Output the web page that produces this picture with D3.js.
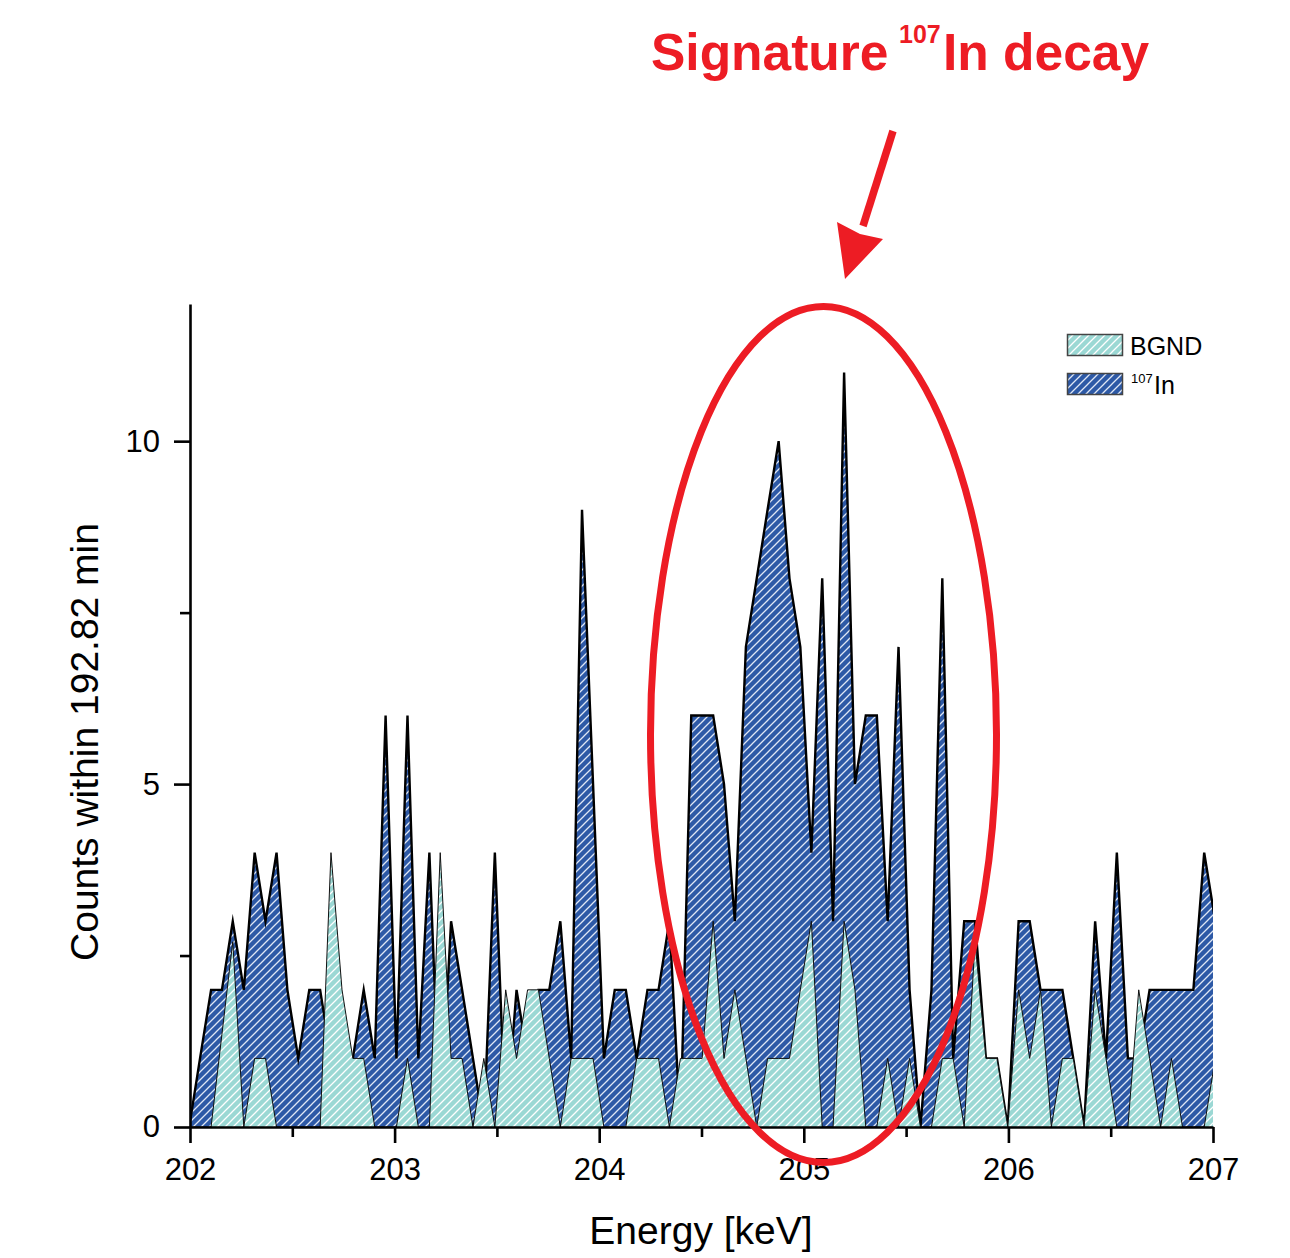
<!DOCTYPE html>
<html>
<head>
<meta charset="utf-8">
<script src="https://cdn.jsdelivr.net/npm/d3@7"></script>
<style>
  body { margin: 0; background: #fff; }
  svg { display: block; font-family: Arial, "Liberation Sans", sans-serif; }
</style>
</head>
<body>
<svg id="chart" width="1290" height="1258"></svg>
<script>
// channel energies (keV)
var energy = [201.996, 202.049, 202.103, 202.156, 202.209, 202.263, 202.316, 202.369, 202.423, 202.476,
  202.529, 202.583, 202.636, 202.689, 202.743, 202.796, 202.849, 202.903, 202.956, 203.009,
  203.063, 203.116, 203.170, 203.223, 203.276, 203.330, 203.383, 203.436, 203.490, 203.543,
  203.596, 203.650, 203.703, 203.756, 203.810, 203.863, 203.916, 203.970, 204.023, 204.076,
  204.130, 204.183, 204.236, 204.290, 204.343, 204.397, 204.450, 204.503, 204.557, 204.610,
  204.663, 204.717, 204.770, 204.823, 204.877, 204.930, 204.983, 205.037, 205.090, 205.143,
  205.197, 205.250, 205.303, 205.357, 205.410, 205.463, 205.517, 205.570, 205.624, 205.677,
  205.730, 205.784, 205.837, 205.890, 205.944, 205.997, 206.050, 206.104, 206.157, 206.210,
  206.264, 206.317, 206.370, 206.424, 206.477, 206.530, 206.584, 206.637, 206.690, 206.744,
  206.797, 206.851, 206.904, 206.957, 207.011];

// 107In measurement counts
var indium = [0, 1, 2, 2, 3, 2, 4, 3, 4, 2,
  1, 2, 2, 1, 1, 1, 2, 1, 6, 1,
  6, 1, 4, 0, 3, 2, 1, 0, 4, 0,
  2, 1, 2, 2, 3, 1, 9, 5, 1, 2,
  2, 1, 2, 2, 3, 0, 6, 6, 6, 5,
  3, 7, 8, 9, 10, 8, 7, 4, 8, 3,
  11, 5, 6, 6, 3, 7, 2, 0, 2, 8,
  1, 3, 3, 1, 1, 0, 3, 3, 2, 2,
  2, 1, 0, 3, 1, 4, 1, 1, 2, 2,
  2, 2, 2, 4, 3];

// background counts
var bgnd = [0, 0, 0, 1.35, 2.7, 0, 1, 1, 0, 0,
  0, 0, 0, 4, 2, 1, 1, 0, 0, 0,
  1, 0, 0, 4, 1, 1, 0, 1, 0, 2,
  1, 2, 2, 1, 0, 1, 1, 1, 0, 0,
  0, 1, 1, 1, 0, 1, 1, 1, 3, 1,
  2, 1, 0, 1, 1, 1, 2, 3, 0, 0,
  3, 2, 0, 0, 1, 0, 1, 0, 0, 1,
  1, 0, 2.7, 1, 1, 0, 2, 1, 2, 0,
  1, 1, 0, 2, 1, 0, 0, 2, 1, 0,
  1, 0, 0, 0, 1];

var xTicks = [202, 203, 204, 205, 206, 207];
var xMinorTicks = [202.5, 203.5, 204.5, 205.5, 206.5];
var yTicks = [0, 5, 10];
var yMinorTicks = [2.5, 7.5];

var red = "#ED1C24";
var svg = d3.select("#chart");

var x = d3.scaleLinear().domain([202, 207]).range([190, 1213]);
var y = d3.scaleLinear().domain([0, 12]).range([1127, 304]);

var defs = svg.append("defs");

// diagonal "/" hatching like Origin's fill pattern
var hatch = function(id, bg, stripe) {
  var p = defs.append("pattern")
    .attr("id", id)
    .attr("patternUnits", "userSpaceOnUse")
    .attr("width", 8).attr("height", 8);
  p.append("rect").attr("width", 8).attr("height", 8).attr("fill", bg);
  p.append("path")
    .attr("d", "M-1,1 l2,-2 M0,8 l8,-8 M7,9 l2,-2")
    .attr("stroke", stripe)
    .attr("stroke-width", 1.3);
};
hatch("hatchIn", "#2D59A6", "#dfe7f5");
hatch("hatchBg", "#9BD8D4", "#ffffff");

defs.append("clipPath").attr("id", "plotClip")
  .append("rect")
  .attr("x", x(202)).attr("y", 280)
  .attr("width", x(207) - x(202)).attr("height", y(0) - 280);

var area = d3.area()
  .x(function(d, i) { return x(energy[i]); })
  .y0(y(0))
  .y1(function(d) { return y(d); });

var line = d3.line()
  .x(function(d, i) { return x(energy[i]); })
  .y(function(d) { return y(d); });

var plot = svg.append("g").attr("clip-path", "url(#plotClip)");

// 107In drawn first, background on top of it
plot.append("path").datum(indium)
  .attr("d", area)
  .attr("fill", "url(#hatchIn)");
plot.append("path").datum(indium)
  .attr("d", line)
  .attr("fill", "none")
  .attr("stroke", "#000")
  .attr("stroke-width", 2.4)
  .attr("stroke-linejoin", "miter")
  .attr("stroke-miterlimit", 8);

plot.append("path").datum(bgnd)
  .attr("d", area)
  .attr("fill", "url(#hatchBg)");
plot.append("path").datum(bgnd)
  .attr("d", line)
  .attr("fill", "none")
  .attr("stroke", "#111")
  .attr("stroke-width", 1)
  .attr("stroke-linejoin", "miter")
  .attr("stroke-miterlimit", 8);

// axes
var styleAxis = function(g, size) {
  g.attr("font-family", "Arial, 'Liberation Sans', sans-serif").attr("font-size", size);
  g.selectAll("path, line").attr("stroke", "#000").attr("stroke-width", 2.6);
  g.selectAll("text").attr("fill", "#000");
};

svg.append("g")
  .attr("transform", "translate(0," + y(0) + ")")
  .call(d3.axisBottom(x).tickValues(xMinorTicks).tickSize(10).tickSizeOuter(0).tickFormat(""))
  .call(styleAxis, 31)
  .call(function(g) { g.select(".domain").remove(); });

svg.append("g")
  .attr("transform", "translate(0," + y(0) + ")")
  .call(d3.axisBottom(x).tickValues(xTicks).tickSize(16).tickSizeOuter(0).tickPadding(15).tickFormat(d3.format("d")))
  .call(styleAxis, 31);

svg.append("g")
  .attr("transform", "translate(" + x(202) + ",0)")
  .call(d3.axisLeft(y).tickValues(yMinorTicks).tickSize(10).tickSizeOuter(0).tickFormat(""))
  .call(styleAxis, 31)
  .call(function(g) { g.select(".domain").remove(); });

svg.append("g")
  .attr("transform", "translate(" + x(202) + ",0)")
  .call(d3.axisLeft(y).tickValues(yTicks).tickSize(16).tickSizeOuter(0).tickPadding(14).tickFormat(d3.format("d")))
  .call(styleAxis, 31);

// axis titles
svg.append("text")
  .attr("x", 701).attr("y", 1244)
  .attr("text-anchor", "middle")
  .attr("font-size", 39)
  .text("Energy [keV]");

svg.append("text")
  .attr("transform", "translate(98,742) rotate(-90)")
  .attr("text-anchor", "middle")
  .attr("font-size", 39)
  .text("Counts within 192.82 min");

// legend
var legend = svg.append("g");
legend.append("rect")
  .attr("x", 1067.5).attr("y", 334.5).attr("width", 55).attr("height", 21)
  .attr("fill", "url(#hatchBg)").attr("stroke", "#444").attr("stroke-width", 1.5);
legend.append("text")
  .attr("x", 1130).attr("y", 355)
  .attr("font-size", 25)
  .text("BGND");
legend.append("rect")
  .attr("x", 1067.5).attr("y", 373.5).attr("width", 55).attr("height", 21)
  .attr("fill", "url(#hatchIn)").attr("stroke", "#444").attr("stroke-width", 1.5);
var inLabel = legend.append("text").attr("font-size", 25);
inLabel.append("tspan").attr("x", 1131).attr("y", 383).attr("font-size", 13).text("107");
inLabel.append("tspan").attr("x", 1154).attr("y", 394).text("In");

// annotation: ellipse, arrow, title
svg.append("ellipse")
  .attr("cx", 823.5).attr("cy", 734.5)
  .attr("rx", 173).attr("ry", 428)
  .attr("fill", "none")
  .attr("stroke", red)
  .attr("stroke-width", 7);

svg.append("line")
  .attr("x1", 893).attr("y1", 131)
  .attr("x2", 863).attr("y2", 226)
  .attr("stroke", red)
  .attr("stroke-width", 7.5);
svg.append("path")
  .attr("d", "M845,279 L837,222 L860,234 L883,239 Z")
  .attr("fill", red);

var title = svg.append("text")
  .attr("font-weight", "bold")
  .attr("font-size", 51.5)
  .attr("fill", red);
title.append("tspan").attr("x", 651).attr("y", 70).text("Signature");
title.append("tspan").attr("x", 899).attr("y", 43).attr("font-size", 25).text("107");
title.append("tspan").attr("x", 943).attr("y", 70).text("In decay");
</script>
</body>
</html>
